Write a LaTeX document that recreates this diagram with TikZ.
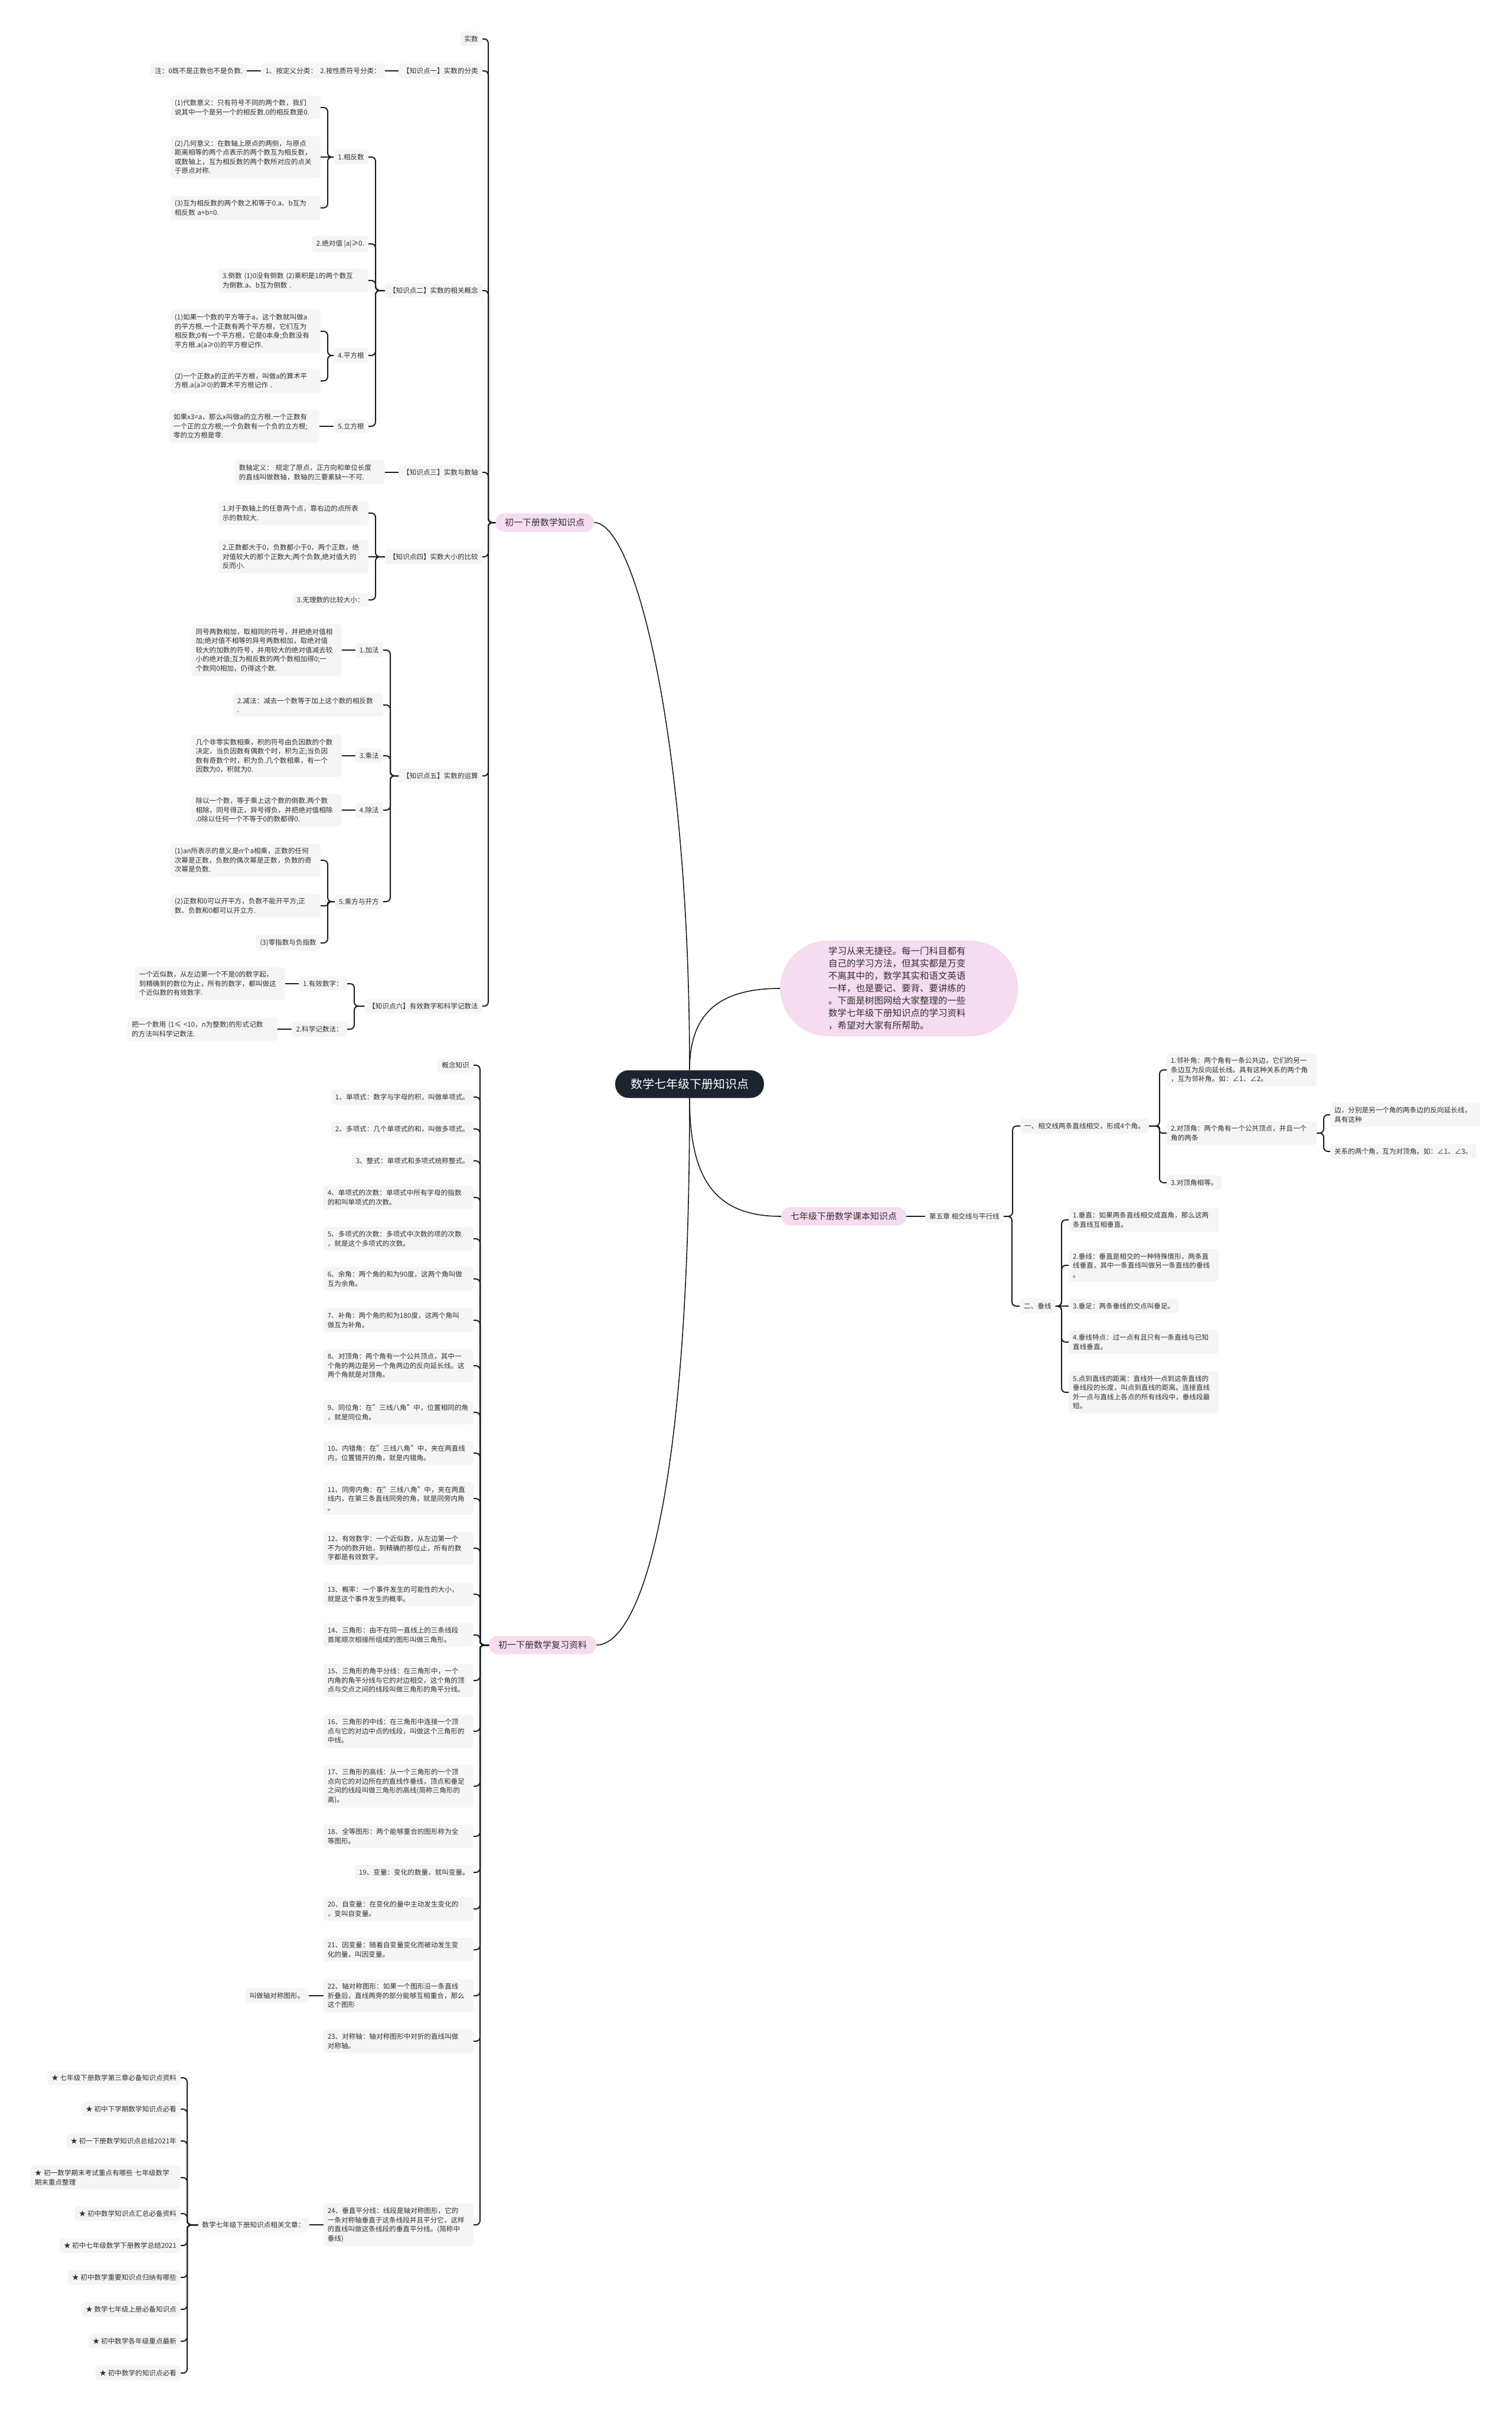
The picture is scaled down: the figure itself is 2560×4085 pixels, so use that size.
\documentclass[tikz,border=0pt]{standalone}
\usepackage{fontspec}
\setmainfont{Noto Sans CJK SC}
\usepackage{xcolor}
\usepackage{tikz}
\usetikzlibrary{positioning}
\definecolor{mm-navy}{RGB}{27,36,48}
\definecolor{mm-pink}{RGB}{246,220,240}
\definecolor{mm-leaf}{RGB}{245,245,246}
\definecolor{mm-line}{RGB}{24,28,38}
\definecolor{mm-text}{RGB}{48,48,48}

\begin{document}
\begin{tikzpicture}[x=1pt, y=-1pt, node distance=24pt,
    leaf/.style={rectangle, fill=mm-leaf, rounded corners=5pt, inner xsep=7pt, inner ysep=7pt, text=mm-text, font=\fontsize{11.6}{15.5}\selectfont},
    para/.style={leaf, text width=240pt, align=left},
    pinkbox/.style={rectangle, fill=mm-pink, rounded corners=15pt, minimum height=31pt, inner xsep=16pt, text=mm-text, font=\fontsize{15}{18}\selectfont},
    link/.style={draw=mm-line, line width=2pt, rounded corners=7pt},
    mainlink/.style={draw=mm-line, line width=1.6pt}]
    \fill[white] (0,0) rectangle (2560,4085);
    \useasboundingbox (0,0) rectangle (2560,4085);

    \node[rectangle, fill=mm-navy, text=white, rounded corners=23pt, minimum height=47pt, inner xsep=26pt, font=\fontsize{20}{24}\selectfont] (root) at (1168,1836) {数学七年级下册知识点};
    \node[rectangle, fill=mm-pink, rounded corners=81pt, minimum width=403pt, minimum height=162pt, text width=240pt, align=left, text=mm-text, font=\fontsize{15.5}{21}\selectfont] (intro) at (1523,1674) {学习从来无捷径。每一门科目都有\\自己的学习方法，但其实都是万变\\不离其中的，数学其实和语文英语\\一样，也是要记、要背、要讲练的\\。下面是树图网给大家整理的一些\\数学七年级下册知识点的学习资料\\，希望对大家有所帮助。};
    \node[pinkbox, anchor=west] (chu) at (839,885) {初一下册数学知识点};
    \node[pinkbox, anchor=west] (fx) at (828,2786) {初一下册数学复习资料};
    \node[pinkbox, anchor=west] (kb) at (1323,2060) {七年级下册数学课本知识点};

    \draw[mainlink] (root.north) .. controls +(0,-560) and +(70,0) .. (chu.east);
    \draw[mainlink] (root.north) .. controls +(0,-90) and +(-110,0) .. (intro.west);
    \draw[mainlink] (root.south) .. controls +(0,140) and +(-110,0) .. (kb.west);
    \draw[mainlink] (root.south) .. controls +(0,700) and +(70,0) .. (fx.east);

    \node[leaf, anchor=east] (shishu) at (817,66) {实数};
    \node[leaf, anchor=east] (k1) at (817,120) {【知识点一】实数的分类};
    \node[leaf, left=23pt of k1] (k1a) {1、按定义分类：\ \ 2.按性质符号分类：};
    \node[leaf, left=of k1a] (k1b) {注：0既不是正数也不是负数.};
    \node[leaf, anchor=east] (k2) at (817,492) {【知识点二】实数的相关概念};
    \node[leaf, anchor=east] (k2a) at (624,266) {1.相反数};
    \node[para, anchor=east] (k2a1) at (543,182) {(1)代数意义：只有符号不同的两个数，我们\\说其中一个是另一个的相反数.0的相反数是0.};
    \node[para, anchor=east] (k2a2) at (543,266) {(2)几何意义：在数轴上原点的两侧，与原点\\距离相等的两个点表示的两个数互为相反数，\\或数轴上，互为相反数的两个数所对应的点关\\于原点对称.};
    \node[para, anchor=east] (k2a3) at (543,352) {(3)互为相反数的两个数之和等于0.a、b互为\\相反数 a+b=0.};
    \node[leaf, anchor=east] (k2b) at (624,413) {2.绝对值 |a|≥0.};
    \node[para, anchor=east] (k2c) at (624,475) {3.倒数 (1)0没有倒数 (2)乘积是1的两个数互\\为倒数.a、b互为倒数 .};
    \node[leaf, anchor=east] (k2d) at (624,602) {4.平方根};
    \node[para, anchor=east] (k2d1) at (543,561) {(1)如果一个数的平方等于a，这个数就叫做a\\的平方根.一个正数有两个平方根，它们互为\\相反数;0有一个平方根，它是0本身;负数没有\\平方根.a(a≥0)的平方根记作.};
    \node[para, anchor=east] (k2d2) at (543,645) {(2)一个正数a的正的平方根，叫做a的算术平\\方根.a(a≥0)的算术平方根记作 .};
    \node[leaf, anchor=east] (k2e) at (624,722) {5.立方根};
    \node[para, left=of k2e] (k2e1) {如果x3=a，那么x叫做a的立方根.一个正数有\\一个正的立方根;一个负数有一个负的立方根;\\零的立方根是零.};
    \node[leaf, anchor=east] (k3) at (817,800) {【知识点三】实数与数轴};
    \node[para, left=23pt of k3] (k3a) {数轴定义： 规定了原点，正方向和单位长度\\的直线叫做数轴，数轴的三要素缺一不可.};
    \node[leaf, anchor=east] (k4) at (817,943) {【知识点四】实数大小的比较};
    \node[para, anchor=east] (k4a) at (624,869) {1.对于数轴上的任意两个点，靠右边的点所表\\示的数较大.};
    \node[para, anchor=east] (k4b) at (624,943) {2.正数都大于0，负数都小于0，两个正数，绝\\对值较大的那个正数大;两个负数,绝对值大的\\反而小.};
    \node[leaf, anchor=east] (k4c) at (624,1016) {3.无理数的比较大小：};
    \node[leaf, anchor=east] (k5) at (817,1314) {【知识点五】实数的运算};
    \node[leaf, anchor=east] (k5a) at (649,1101) {1.加法};
    \node[para, left=23pt of k5a] (k5a1) {同号两数相加，取相同的符号，并把绝对值相\\加;绝对值不相等的异号两数相加，取绝对值\\较大的加数的符号，并用较大的绝对值减去较\\小的绝对值;互为相反数的两个数相加得0;一\\个数同0相加，仍得这个数.};
    \node[para, anchor=east] (k5b) at (649,1194) {2.减法：减去一个数等于加上这个数的相反数\\.};
    \node[leaf, anchor=east] (k5c) at (649,1280) {3.乘法};
    \node[para, left=23pt of k5c] (k5c1) {几个非零实数相乘，积的符号由负因数的个数\\决定，当负因数有偶数个时，积为正;当负因\\数有奇数个时，积为负.几个数相乘，有一个\\因数为0，积就为0.};
    \node[leaf, anchor=east] (k5d) at (649,1372) {4.除法};
    \node[para, left=23pt of k5d] (k5d1) {除以一个数，等于乘上这个数的倒数.两个数\\相除，同号得正，异号得负，并把绝对值相除\\.0除以任何一个不等于0的数都得0.};
    \node[leaf, anchor=east] (k5e) at (649,1527) {5.乘方与开方};
    \node[para, anchor=east] (k5e1) at (543,1457) {(1)an所表示的意义是n个a相乘，正数的任何\\次幂是正数，负数的偶次幂是正数，负数的奇\\次幂是负数.};
    \node[para, anchor=east] (k5e2) at (543,1534) {(2)正数和0可以开平方，负数不能开平方;正\\数、负数和0都可以开立方.};
    \node[leaf, anchor=east] (k5e3) at (543,1597) {(3)零指数与负指数};
    \node[leaf, anchor=east] (k6) at (817,1704) {【知识点六】有效数字和科学记数法};
    \node[leaf, anchor=east] (k6a) at (588,1666) {1.有效数字：};
    \node[para, left=23pt of k6a] (k6a1) {一个近似数，从左边第一个不是0的数字起，\\到精确到的数位为止，所有的数字，都叫做这\\个近似数的有效数字.};
    \node[leaf, anchor=east] (k6b) at (588,1743) {2.科学记数法：};
    \node[para, left=of k6b] (k6b1) {把一个数用 (1≤ <10，n为整数)的形式记数\\的方法叫科学记数法.};

    \draw[link] (shishu.east) -- ++(10,0) |- (chu.west);
    \draw[link] (k1.east) -- ++(10,0) |- (chu.west);
    \draw[link] (k2.east) -- ++(10,0) |- (chu.west);
    \draw[link] (k3.east) -- ++(10,0) |- (chu.west);
    \draw[link] (k4.east) -- ++(10,0) |- (chu.west);
    \draw[link] (k5.east) -- ++(10,0) |- (chu.west);
    \draw[link] (k6.east) -- ++(10,0) |- (chu.west);
    \draw[link] (k1a.east) -- (k1.west);
    \draw[link] (k1b.east) -- (k1a.west);
    \draw[link] (k2a.east) -- ++(12,0) |- (k2.west);
    \draw[link] (k2b.east) -- ++(12,0) |- (k2.west);
    \draw[link] (k2c.east) -- ++(12,0) |- (k2.west);
    \draw[link] (k2d.east) -- ++(12,0) |- (k2.west);
    \draw[link] (k2e.east) -- ++(12,0) |- (k2.west);
    \draw[link] (k2a1.east) -- ++(12,0) |- (k2a.west);
    \draw[link] (k2a2.east) -- (k2a.west);
    \draw[link] (k2a3.east) -- ++(12,0) |- (k2a.west);
    \draw[link] (k2d1.east) -- ++(12,0) |- (k2d.west);
    \draw[link] (k2d2.east) -- ++(12,0) |- (k2d.west);
    \draw[link] (k2e1.east) -- (k2e.west);
    \draw[link] (k3a.east) -- (k3.west);
    \draw[link] (k4a.east) -- ++(12,0) |- (k4.west);
    \draw[link] (k4b.east) -- (k4.west);
    \draw[link] (k4c.east) -- ++(12,0) |- (k4.west);
    \draw[link] (k5a.east) -- ++(12,0) |- (k5.west);
    \draw[link] (k5b.east) -- ++(12,0) |- (k5.west);
    \draw[link] (k5c.east) -- ++(12,0) |- (k5.west);
    \draw[link] (k5d.east) -- ++(12,0) |- (k5.west);
    \draw[link] (k5e.east) -- ++(12,0) |- (k5.west);
    \draw[link] (k5a1.east) -- (k5a.west);
    \draw[link] (k5c1.east) -- (k5c.west);
    \draw[link] (k5d1.east) -- (k5d.west);
    \draw[link] (k5e1.east) -- ++(12,0) |- (k5e.west);
    \draw[link, rounded corners=3pt] (k5e2.east) -- ++(12,0) |- (k5e.west);
    \draw[link] (k5e3.east) -- ++(12,0) |- (k5e.west);
    \draw[link] (k6a.east) -- ++(12,0) |- (k6.west);
    \draw[link] (k6b.east) -- ++(12,0) |- (k6.west);
    \draw[link] (k6a1.east) -- (k6a.west);
    \draw[link] (k6b1.east) -- (k6b.west);

    \node[leaf, anchor=west] (kb1) at (1567,2060) {第五章 相交线与平行线};
    \node[leaf, anchor=west] (r1) at (1728,1907) {一、相交线两条直线相交，形成4个角。};
    \node[para, anchor=west] (r1a) at (1976,1812) {1.邻补角：两个角有一条公共边，它们的另一\\条边互为反向延长线。具有这种关系的两个角\\，互为邻补角。如：∠1、∠2。};
    \node[para, anchor=west] (r1b) at (1976,1919) {2.对顶角：两个角有一个公共顶点，并且一个\\角的两条};
    \node[para, anchor=west] (r1b1) at (2253,1888) {边，分别是另一个角的两条边的反向延长线，\\具有这种};
    \node[leaf, anchor=west] (r1b2) at (2253,1950) {关系的两个角，互为对顶角。如：∠1、∠3。};
    \node[leaf, anchor=west] (r1c) at (1976,2003) {3.对顶角相等。};
    \node[leaf, anchor=west] (r2) at (1727,2212) {二、垂线};
    \node[para, anchor=west] (r2a) at (1810,2066) {1.垂直：如果两条直线相交成直角，那么这两\\条直线互相垂直。};
    \node[para, anchor=west] (r2b) at (1810,2143) {2.垂线：垂直是相交的一种特殊情形，两条直\\线垂直，其中一条直线叫做另一条直线的垂线\\。};
    \node[leaf, anchor=west] (r2c) at (1810,2212) {3.垂足：两条垂线的交点叫垂足。};
    \node[para, anchor=west] (r2d) at (1810,2273) {4.垂线特点：过一点有且只有一条直线与已知\\直线垂直。};
    \node[para, anchor=west] (r2e) at (1810,2358) {5.点到直线的距离：直线外一点到这条直线的\\垂线段的长度，叫点到直线的距离。连接直线\\外一点与直线上各点的所有线段中，垂线段最\\短。};

    \draw[link] (kb.east) -- (kb1.west);
    \draw[link] (r1.west) -- ++(-13,0) |- (kb1.east);
    \draw[link] (r2.west) -- ++(-13,0) |- (kb1.east);
    \draw[link] (r1a.west) -- ++(-12,0) |- (r1.east);
    \draw[link, rounded corners=4pt] (r1b.west) -- ++(-12,0) |- (r1.east);
    \draw[link] (r1c.west) -- ++(-12,0) |- (r1.east);
    \draw[link] (r1b1.west) -- ++(-11,0) |- (r1b.east);
    \draw[link] (r1b2.west) -- ++(-11,0) |- (r1b.east);
    \draw[link] (r2a.west) -- ++(-12,0) |- (r2.east);
    \draw[link] (r2b.west) -- ++(-12,0) |- (r2.east);
    \draw[link] (r2c.west) -- (r2.east);
    \draw[link] (r2d.west) -- ++(-12,0) |- (r2.east);
    \draw[link] (r2e.west) -- ++(-12,0) |- (r2.east);

    \node[leaf, anchor=east] (g0) at (802,1804) {概念知识};
    \node[leaf, anchor=east] (g1) at (802,1858) {1、单项式：数字与字母的积，叫做单项式。};
    \node[leaf, anchor=east] (g2) at (802,1912) {2、多项式：几个单项式的和，叫做多项式。};
    \node[leaf, anchor=east] (g3) at (802,1966) {3、整式：单项式和多项式统称整式。};
    \node[para, anchor=east] (g4) at (802,2028) {4、单项式的次数：单项式中所有字母的指数\\的和叫单项式的次数。};
    \node[para, anchor=east] (g5) at (802,2098) {5、多项式的次数：多项式中次数的项的次数\\，就是这个多项式的次数。};
    \node[para, anchor=east] (g6) at (802,2166) {6、余角：两个角的和为90度，这两个角叫做\\互为余角。};
    \node[para, anchor=east] (g7) at (802,2236) {7、补角：两个角的和为180度，这两个角叫\\做互为补角。};
    \node[para, anchor=east] (g8) at (802,2313) {8、对顶角：两个角有一个公共顶点，其中一\\个角的两边是另一个角两边的反向延长线。这\\两个角就是对顶角。};
    \node[para, anchor=east] (g9) at (802,2392) {9、同位角：在"三线八角"中，位置相同的角\\，就是同位角。};
    \node[para, anchor=east] (g10) at (802,2461) {10、内错角：在"三线八角"中，夹在两直线\\内，位置错开的角，就是内错角。};
    \node[para, anchor=east] (g11) at (802,2538) {11、同旁内角：在"三线八角"中，夹在两直\\线内，在第三条直线同旁的角，就是同旁内角\\。};
    \node[para, anchor=east] (g12) at (802,2622) {12、有效数字：一个近似数，从左边第一个\\不为0的数开始，到精确的那位止，所有的数\\字都是有效数字。};
    \node[para, anchor=east] (g13) at (802,2700) {13、概率：一个事件发生的可能性的大小，\\就是这个事件发生的概率。};
    \node[para, anchor=east] (g14) at (802,2769) {14、三角形：由不在同一直线上的三条线段\\首尾顺次相接所组成的图形叫做三角形。};
    \node[para, anchor=east] (g15) at (802,2846) {15、三角形的角平分线：在三角形中，一个\\内角的角平分线与它的对边相交，这个角的顶\\点与交点之间的线段叫做三角形的角平分线。};
    \node[para, anchor=east] (g16) at (802,2932) {16、三角形的中线：在三角形中连接一个顶\\点与它的对边中点的线段，叫做这个三角形的\\中线。};
    \node[para, anchor=east] (g17) at (802,3025) {17、三角形的高线：从一个三角形的一个顶\\点向它的对边所在的直线作垂线，顶点和垂足\\之间的线段叫做三角形的高线(简称三角形的\\高)。};
    \node[para, anchor=east] (g18) at (802,3110) {18、全等图形：两个能够重合的图形称为全\\等图形。};
    \node[leaf, anchor=east] (g19) at (802,3171) {19、变量：变化的数量，就叫变量。};
    \node[para, anchor=east] (g20) at (802,3233) {20、自变量：在变化的量中主动发生变化的\\，变叫自变量。};
    \node[para, anchor=east] (g21) at (802,3302) {21、因变量：随着自变量变化而被动发生变\\化的量，叫因变量。};
    \node[para, anchor=east] (g22) at (802,3380) {22、轴对称图形：如果一个图形沿一条直线\\折叠后，直线两旁的部分能够互相重合，那么\\这个图形};
    \node[leaf, left=25pt of g22] (g22a) {叫做轴对称图形。};
    \node[para, anchor=east] (g23) at (802,3457) {23、对称轴：轴对称图形中对折的直线叫做\\对称轴。};
    \node[para, anchor=east] (g24) at (802,3768) {24、垂直平分线：线段是轴对称图形，它的\\一条对称轴垂直于这条线段并且平分它，这样\\的直线叫做这条线段的垂直平分线。(简称中\\垂线)};
    \node[leaf, left=of g24] (wz) {数学七年级下册知识点相关文章：};
    \node[leaf, anchor=east] (wz1) at (306,3519) {★ 七年级下册数学第三章必备知识点资料};
    \node[leaf, anchor=east] (wz2) at (306,3572) {★ 初中下学期数学知识点必看};
    \node[leaf, anchor=east] (wz3) at (306,3626) {★ 初一下册数学知识点总结2021年};
    \node[para, anchor=east] (wz4) at (306,3688) {★ 初一数学期末考试重点有哪些 七年级数学\\期末重点整理};
    \node[leaf, anchor=east] (wz5) at (306,3749) {★ 初中数学知识点汇总必备资料};
    \node[leaf, anchor=east] (wz6) at (306,3803) {★ 初中七年级数学下册教学总结2021};
    \node[leaf, anchor=east] (wz7) at (306,3857) {★ 初中数学重要知识点归纳有哪些};
    \node[leaf, anchor=east] (wz8) at (306,3911) {★ 数学七年级上册必备知识点};
    \node[leaf, anchor=east] (wz9) at (306,3965) {★ 初中数学各年级重点最新};
    \node[leaf, anchor=east] (wz10) at (306,4019) {★ 初中数学的知识点必看};

    \draw[link] (g0.east) -- ++(11,0) |- (fx.west);
    \draw[link] (g1.east) -- ++(11,0) |- (fx.west);
    \draw[link] (g2.east) -- ++(11,0) |- (fx.west);
    \draw[link] (g3.east) -- ++(11,0) |- (fx.west);
    \draw[link] (g4.east) -- ++(11,0) |- (fx.west);
    \draw[link] (g5.east) -- ++(11,0) |- (fx.west);
    \draw[link] (g6.east) -- ++(11,0) |- (fx.west);
    \draw[link] (g7.east) -- ++(11,0) |- (fx.west);
    \draw[link] (g8.east) -- ++(11,0) |- (fx.west);
    \draw[link] (g9.east) -- ++(11,0) |- (fx.west);
    \draw[link] (g10.east) -- ++(11,0) |- (fx.west);
    \draw[link] (g11.east) -- ++(11,0) |- (fx.west);
    \draw[link] (g12.east) -- ++(11,0) |- (fx.west);
    \draw[link] (g13.east) -- ++(11,0) |- (fx.west);
    \draw[link] (g14.east) -- ++(11,0) |- (fx.west);
    \draw[link] (g15.east) -- ++(11,0) |- (fx.west);
    \draw[link] (g16.east) -- ++(11,0) |- (fx.west);
    \draw[link] (g17.east) -- ++(11,0) |- (fx.west);
    \draw[link] (g18.east) -- ++(11,0) |- (fx.west);
    \draw[link] (g19.east) -- ++(11,0) |- (fx.west);
    \draw[link] (g20.east) -- ++(11,0) |- (fx.west);
    \draw[link] (g21.east) -- ++(11,0) |- (fx.west);
    \draw[link] (g22.east) -- ++(11,0) |- (fx.west);
    \draw[link] (g23.east) -- ++(11,0) |- (fx.west);
    \draw[link] (g24.east) -- ++(11,0) |- (fx.west);
    \draw[link] (g22a.east) -- (g22.west);
    \draw[link] (wz.east) -- (g24.west);
    \draw[link] (wz1.east) -- ++(11,0) |- (wz.west);
    \draw[link] (wz2.east) -- ++(11,0) |- (wz.west);
    \draw[link] (wz3.east) -- ++(11,0) |- (wz.west);
    \draw[link] (wz4.east) -- ++(11,0) |- (wz.west);
    \draw[link] (wz5.east) -- ++(11,0) |- (wz.west);
    \draw[link] (wz6.east) -- ++(11,0) |- (wz.west);
    \draw[link] (wz7.east) -- ++(11,0) |- (wz.west);
    \draw[link] (wz8.east) -- ++(11,0) |- (wz.west);
    \draw[link] (wz9.east) -- ++(11,0) |- (wz.west);
    \draw[link] (wz10.east) -- ++(11,0) |- (wz.west);
\end{tikzpicture}
\end{document}
